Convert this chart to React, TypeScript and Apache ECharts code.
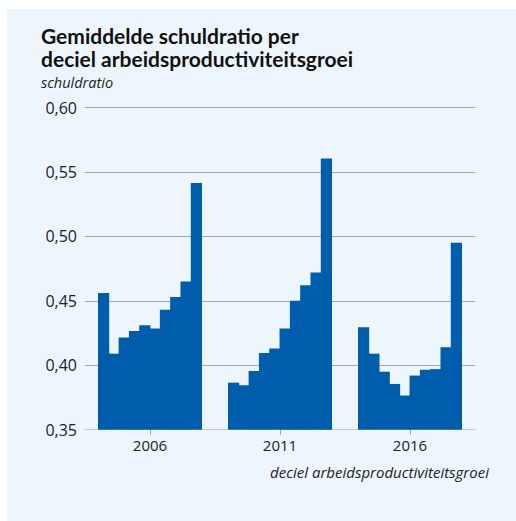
import React, { useEffect, useRef } from "react";
import * as echarts from "echarts";

const years = ["2006", "2011", "2016"];
const deciles = ["1", "2", "3", "4", "5", "6", "7", "8", "9", "10"];
const values2006 = [0.456, 0.409, 0.4215, 0.4265, 0.431, 0.4285, 0.443, 0.453, 0.465, 0.5415];
const values2011 = [0.3865, 0.3845, 0.3955, 0.4095, 0.413, 0.4285, 0.45, 0.462, 0.472, 0.5605];
const values2016 = [0.4295, 0.409, 0.395, 0.3855, 0.3765, 0.392, 0.3965, 0.397, 0.414, 0.495];
const yTicks = { min: 0.35, max: 0.6, interval: 0.05 };

const title1 = "Gemiddelde schuldratio per";
const title2 = "deciel arbeidsproductiviteitsgroei";
const yName = "schuldratio";
const xName = "deciel arbeidsproductiviteitsgroei";

const FONT = "'Open Sans', 'Noto Sans', sans-serif";
const TFONT = "Lato, 'Open Sans', sans-serif";
const BAR = "#005dab";

export default function App() {
  const ref = useRef<HTMLDivElement>(null);
  useEffect(() => {
    if (!ref.current) return;
    const chart = echarts.init(ref.current, undefined, { renderer: "svg" });
    const series = deciles.map((d, i) => ({
      name: "deciel " + d,
      type: "bar" as const,
      barGap: "-8%",
      barCategoryGap: "20%",
      data: [values2006[i], values2011[i], values2016[i]],
      itemStyle: { color: BAR },
      emphasis: { disabled: true },
    }));
    chart.setOption({
      animation: false,
      textStyle: { fontFamily: FONT },
      grid: { left: 85, right: 41, top: 107.5, bottom: 91.3, containLabel: false },
      xAxis: {
        type: "category",
        data: years,
        axisLine: { lineStyle: { color: "#c4ccd3", width: 1 } },
        axisTick: { show: true, length: 5, alignWithLabel: true, lineStyle: { color: "#9aa0a6" } },
        axisLabel: { color: "#222", fontSize: 15, fontFamily: FONT, margin: 8 },
      },
      yAxis: {
        type: "value",
        min: yTicks.min,
        max: yTicks.max,
        interval: yTicks.interval,
        axisLine: { show: false },
        axisTick: { show: false },
        splitLine: { lineStyle: { color: "#a3a7ab", width: 1 } },
        axisLabel: {
          color: "#222",
          fontSize: 16,
          fontFamily: FONT,
          margin: 8,
          formatter: (v: number) => v.toFixed(2).replace(".", ","),
        },
      },
      series,
      graphic: [
        {
          type: "text",
          left: 41,
          top: 25,
          style: { text: title1, font: "bold 21px " + TFONT, fill: "#111" },
        },
        {
          type: "text",
          left: 41,
          top: 48,
          style: { text: title2, font: "bold 21px " + TFONT, fill: "#111" },
        },
        {
          type: "text",
          left: 41,
          top: 75,
          style: { text: yName, font: "italic 14.5px " + FONT, fill: "#222" },
        },
        {
          type: "text",
          right: 27,
          top: 464,
          style: { text: xName, font: "italic 15px " + FONT, fill: "#222" },
        },
      ],
    });
    return () => chart.dispose();
  }, []);
  return (
    <div style={{ position: "absolute", left: 0, top: 0, width: 516, height: 521, background: "#fff" }}>
      <div style={{ position: "absolute", left: 7, top: 9, width: 509, height: 512, background: "#edf6fd" }} />
      <div ref={ref} style={{ position: "absolute", left: 0, top: 0, width: 516, height: 521 }} />
    </div>
  );
}
